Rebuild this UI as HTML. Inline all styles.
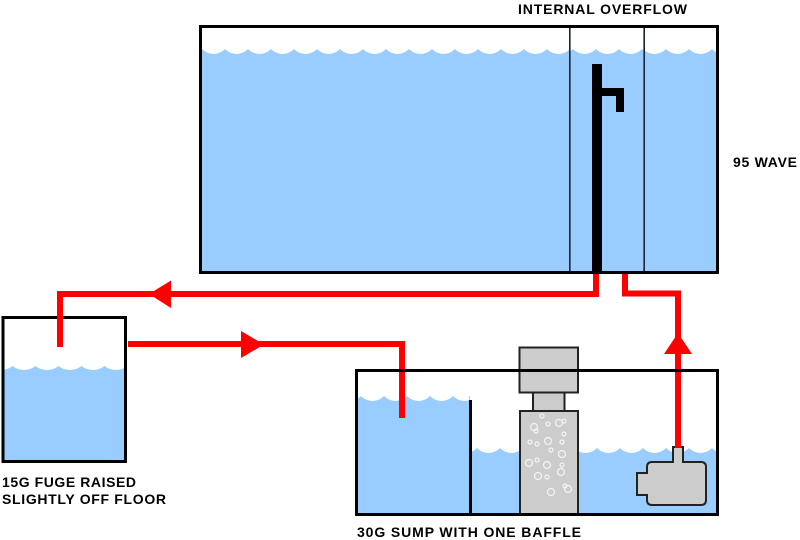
<!DOCTYPE html>
<html>
<head>
<meta charset="utf-8">
<style>
html,body{margin:0;padding:0;background:#fff;}
svg{display:block;}
text{font-family:"Liberation Sans",Arial,sans-serif;font-weight:bold;font-size:14px;fill:#000;}
</style>
</head>
<body>
<svg width="800" height="540" viewBox="0 0 800 540" xmlns="http://www.w3.org/2000/svg">
<defs>
  <pattern id="pm1" x="202" y="39" width="23" height="20" patternUnits="userSpaceOnUse"><circle cx="11.5" cy="-0.7" r="15.7" fill="#fff"/></pattern>
  <pattern id="pm2" x="573" y="39" width="23" height="20" patternUnits="userSpaceOnUse"><circle cx="11.5" cy="-0.7" r="15.7" fill="#fff"/></pattern>
  <pattern id="pm3" x="666" y="39" width="23" height="20" patternUnits="userSpaceOnUse"><circle cx="11.5" cy="-0.7" r="15.7" fill="#fff"/></pattern>
  <pattern id="pf" x="12.5" y="356" width="23" height="20" patternUnits="userSpaceOnUse"><circle cx="11.5" cy="-4.5" r="18.5" fill="#fff"/></pattern>
  <pattern id="ps1" x="361" y="386" width="23" height="20" patternUnits="userSpaceOnUse"><circle cx="11.5" cy="-0.7" r="15.7" fill="#fff"/></pattern>
  <pattern id="ps2" x="477" y="438" width="23" height="20" patternUnits="userSpaceOnUse"><circle cx="11.5" cy="-0.7" r="15.7" fill="#fff"/></pattern>
  <pattern id="ps3" x="597" y="438" width="23" height="20" patternUnits="userSpaceOnUse"><circle cx="11.5" cy="-0.7" r="15.7" fill="#fff"/></pattern>
</defs>

<!-- MAIN TANK -->
<rect x="200" y="49" width="518" height="224" fill="#99ccff"/>
<rect x="201" y="49" width="369" height="6" fill="url(#pm1)"/>
<rect x="570" y="49" width="74" height="6" fill="url(#pm2)"/>
<rect x="644" y="49" width="73" height="6" fill="url(#pm3)"/>
<line x1="569.8" y1="27" x2="569.8" y2="272" stroke="#1c2230" stroke-width="1.6"/>
<line x1="644.2" y1="27" x2="644.2" y2="272" stroke="#1c2230" stroke-width="1.6"/>
<path d="M592,64 H602 V88 H624 V112 H616 V96 H602 V273 H592 Z" fill="#000"/>
<rect x="200.5" y="26.5" width="517" height="246" fill="none" stroke="#000" stroke-width="3"/>

<!-- FUGE -->
<rect x="3" y="366" width="122" height="96" fill="#99ccff"/>
<rect x="4" y="366" width="120" height="5" fill="url(#pf)"/>
<rect x="3" y="317.5" width="122.5" height="144" fill="none" stroke="#000" stroke-width="3"/>

<!-- SUMP water -->
<rect x="357" y="396" width="113" height="118" fill="#99ccff"/>
<rect x="358" y="396" width="111" height="6" fill="url(#ps1)"/>
<rect x="471" y="448" width="246" height="66" fill="#99ccff"/>
<rect x="472" y="448" width="48" height="6" fill="url(#ps2)"/>
<rect x="578" y="448" width="139" height="6" fill="url(#ps3)"/>

<!-- Skimmer -->
<rect x="519.5" y="347.5" width="58.5" height="45" fill="#cccccc" stroke="#222" stroke-width="2"/>
<rect x="533" y="392.5" width="31.5" height="18.5" fill="#cccccc" stroke="#222" stroke-width="2"/>
<rect x="520" y="411" width="58" height="103" fill="#cccccc" stroke="#222" stroke-width="2"/>
<g fill="none" stroke="#f4f4f4" stroke-width="1.2">
  <circle cx="542" cy="416" r="2"/>
  <circle cx="534" cy="427" r="3.5"/>
  <circle cx="548" cy="424" r="2"/>
  <circle cx="559" cy="423" r="3.5"/>
  <circle cx="564" cy="421" r="2"/>
  <circle cx="536" cy="431" r="2"/>
  <circle cx="564" cy="434" r="2"/>
  <circle cx="530" cy="442" r="2"/>
  <circle cx="537" cy="444" r="2"/>
  <circle cx="548" cy="441" r="3.5"/>
  <circle cx="562" cy="442" r="2"/>
  <circle cx="551" cy="450" r="2"/>
  <circle cx="562" cy="454" r="3.5"/>
  <circle cx="529" cy="463" r="3.5"/>
  <circle cx="537" cy="460" r="2"/>
  <circle cx="547" cy="465" r="3.5"/>
  <circle cx="562" cy="465" r="2"/>
  <circle cx="561" cy="472" r="3.5"/>
  <circle cx="538" cy="476" r="3.5"/>
  <circle cx="547" cy="477" r="2"/>
  <circle cx="551" cy="492" r="3.5"/>
  <circle cx="568" cy="489" r="3.5"/>
  <circle cx="565" cy="486" r="2"/>
</g>

<!-- Pump -->
<path d="M673,447 H683 V462 H701 Q706,462 706,467 V500 Q706,505 701,505 H652 Q647,505 647,500 V495 H637 V473 H647 V467 Q647,462 652,462 H673 Z" fill="#cccccc" stroke="#222" stroke-width="2"/>

<!-- Red plumbing -->
<g fill="none" stroke="#ff0000" stroke-width="6" stroke-linejoin="miter" stroke-linecap="butt">
  <path d="M596,274 V294 H60 V347"/>
  <path d="M128,344 H402 V418"/>
  <path d="M625,274 V293.5 H678 V448"/>
</g>
<g fill="#ff0000">
  <polygon points="149,294 171,280.5 171,308"/>
  <polygon points="264,344.5 241,331 241,358"/>
  <polygon points="678,333 664,354 692,354"/>
</g>

<!-- Sump border and baffle -->
<rect x="356.5" y="370.5" width="361" height="144" fill="none" stroke="#000" stroke-width="3"/>
<line x1="470.5" y1="400" x2="470.5" y2="514" stroke="#000" stroke-width="3"/>

<!-- Labels -->
<text x="518" y="14" textLength="169" lengthAdjust="spacing">INTERNAL OVERFLOW</text>
<text x="733" y="167" textLength="64" lengthAdjust="spacing">95 WAVE</text>
<text x="2" y="487" textLength="134" lengthAdjust="spacing">15G FUGE RAISED</text>
<text x="2" y="504" textLength="164" lengthAdjust="spacing">SLIGHTLY OFF FLOOR</text>
<text x="357" y="537" textLength="224" lengthAdjust="spacing">30G SUMP WITH ONE BAFFLE</text>
</svg>
</body>
</html>
